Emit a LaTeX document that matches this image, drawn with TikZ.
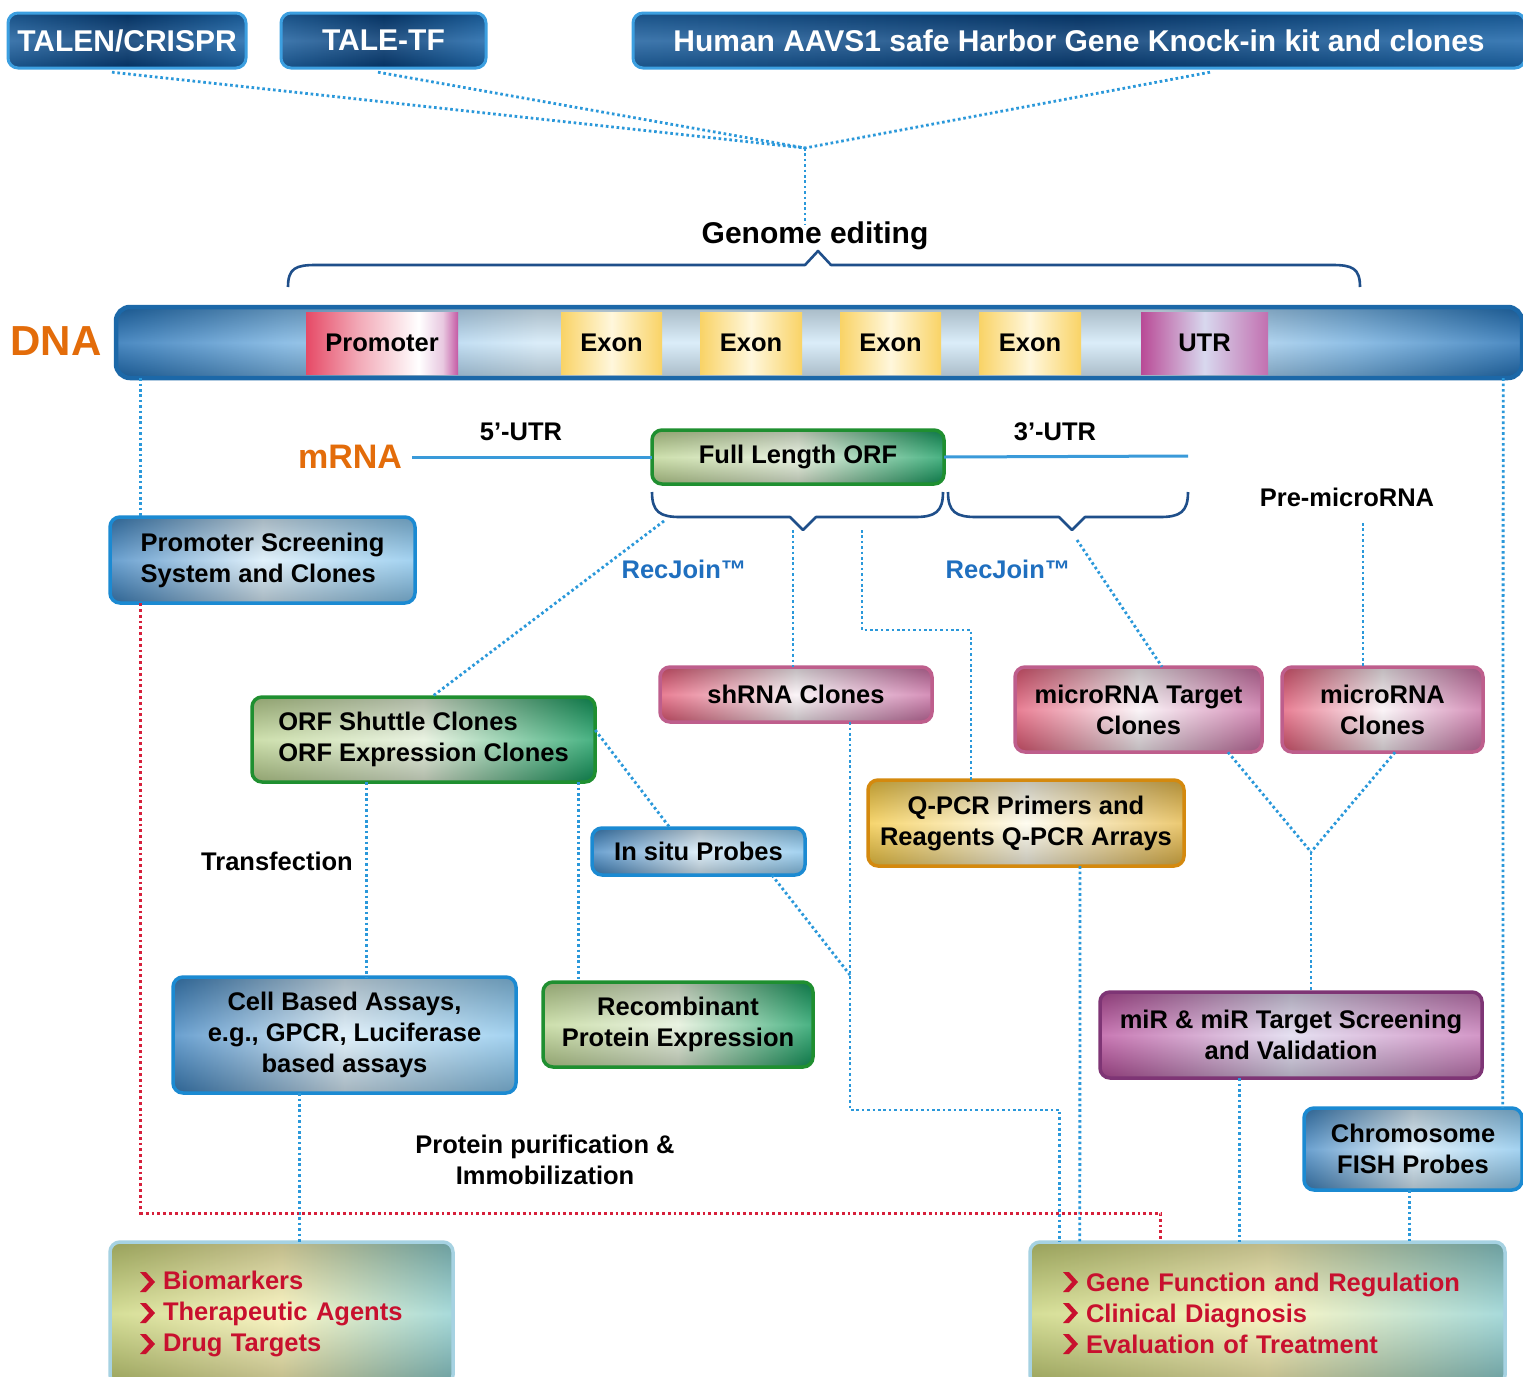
\documentclass[tikz,border=0pt]{standalone}
\usepackage{fontspec}
\setmainfont{Liberation Sans}
\usetikzlibrary{calc}
\newcommand\fbody{\fontsize{25.5}{31}\selectfont\bfseries}
\newcommand\ftop{\fontsize{30}{34}\selectfont\bfseries}
\newcommand\chevsp{\hspace*{23pt}}
\definecolor{topL}{HTML}{1D609F}
\definecolor{topM}{HTML}{053A72}
\definecolor{topR}{HTML}{1B66AA}
\definecolor{topB}{HTML}{3C9FE0}
\definecolor{dnaA}{HTML}{1E6CB2}
\definecolor{dnaB}{HTML}{74B0E0}
\definecolor{dnaC}{HTML}{D2E9F8}
\definecolor{dnaBrd}{HTML}{1C68A8}
\definecolor{braceblue}{HTML}{1F4F8A}
\definecolor{dnaorange}{HTML}{E36C0A}
\definecolor{dotblue}{HTML}{2A98DA}
\definecolor{mrnaline}{HTML}{3A9AD9}
\definecolor{recblue}{HTML}{1F6FBF}
\definecolor{dotred}{HTML}{D6203B}
\definecolor{itemred}{HTML}{C8102E}
\definecolor{bluL}{HTML}{3B82C0}
\definecolor{bluM}{HTML}{D8EDFA}
\definecolor{bluR}{HTML}{86C4EC}
\definecolor{bluB}{HTML}{1B8AD2}
\definecolor{grnL}{HTML}{BDD592}
\definecolor{grnM}{HTML}{E4F0DA}
\definecolor{grnR}{HTML}{0F9A5C}
\definecolor{grnB}{HTML}{1F8F30}
\definecolor{pnkL}{HTML}{E25672}
\definecolor{pnkM}{HTML}{FAF2F6}
\definecolor{pnkR}{HTML}{C86CA2}
\definecolor{pnkB}{HTML}{BE5E8C}
\definecolor{gldL}{HTML}{F4C840}
\definecolor{gldM}{HTML}{FFFCEC}
\definecolor{gldR}{HTML}{E6B845}
\definecolor{gldB}{HTML}{D4890E}
\definecolor{purL}{HTML}{B84E9C}
\definecolor{purM}{HTML}{DED8EE}
\definecolor{purR}{HTML}{C676B6}
\definecolor{purB}{HTML}{7E3575}
\definecolor{btmL}{HTML}{C8D477}
\definecolor{btmM}{HTML}{FBF4B4}
\definecolor{btmR}{HTML}{8CCFD0}
\definecolor{btmB}{HTML}{A6D2E2}
\definecolor{exoY}{HTML}{F9D366}
\definecolor{exoM}{HTML}{FFF7DC}
\definecolor{prA}{HTML}{E64A66}
\definecolor{prB}{HTML}{F2A8B6}
\definecolor{prE}{HTML}{E8C8E0}
\definecolor{prD}{HTML}{C45AA4}
\definecolor{utrL}{HTML}{B94A96}
\definecolor{utrM}{HTML}{D8D8EE}
\definecolor{utrR}{HTML}{C270B0}
\pgfdeclarehorizontalshading{dnashade}{100bp}{color(0bp)=(dnaA); color(25bp)=(dnaA); color(31bp)=(dnaB); color(40bp)=(dnaC); color(62bp)=(dnaC); color(69bp)=(dnaB); color(75bp)=(dnaA); color(100bp)=(dnaA)}
\pgfdeclarehorizontalshading{promshade}{100bp}{color(0bp)=(prA); color(25bp)=(prA); color(42bp)=(prB); color(62bp)=(white); color(70bp)=(prE); color(75bp)=(prD); color(100bp)=(prD)}
\begin{document}
\begin{tikzpicture}[x=1pt,y=-1pt,
  box/.style={rounded corners=10pt, inner sep=0pt, align=center, font=\fbody, text=black},
  gloss/.style={postaction={fill opacity=0.24, top color=black, bottom color=black, middle color=white}},
  topbox/.style={box, font=\ftop, text=white, minimum height=55pt, left color=topL, right color=topR, middle color=topM,
    postaction={fill opacity=0.15, top color=black, bottom color=black, middle color=white}, postaction={draw=topB, line width=3pt}},
  bluebox/.style={box, left color=bluL, right color=bluR, middle color=bluM, gloss, postaction={draw=bluB, line width=3.5pt}},
  greenbox/.style={box, left color=grnL, right color=grnR, middle color=grnM, gloss, postaction={draw=grnB, line width=3.5pt}},
  pinkbox/.style={box, left color=pnkL, right color=pnkR, middle color=pnkM, gloss, postaction={draw=pnkB, line width=3.5pt}},
  goldbox/.style={box, left color=gldL, right color=gldR, middle color=gldM, gloss, postaction={draw=gldB, line width=3.5pt}},
  purplebox/.style={box, left color=purL, right color=purR, middle color=purM, gloss, postaction={draw=purB, line width=3.5pt}},
  bottombox/.style={box, text=itemred, align=left, left color=btmL, right color=btmR, middle color=btmM, gloss, postaction={draw=btmB, line width=3.5pt}},
  seg/.style={inner sep=0pt, minimum height=62pt, font=\fbody},
  lbl/.style={inner sep=0pt, font=\fbody, align=center},
  bdot/.style={draw=dotblue, line width=2.8pt, dash pattern=on 2.6pt off 2.8pt},
  rdot/.style={draw=dotred, line width=3pt, dash pattern=on 2.8pt off 3pt},
  brc/.style={draw=braceblue, line width=2.6pt, line join=round},
  mline/.style={draw=mrnaline, line width=3pt},
  chevron/.style={fill=itemred}
]
\useasboundingbox (0,0) rectangle (1523,1376);
\fill[white] (0,0) rectangle (1523,1376);

% top boxes
\node[topbox, minimum width=238pt] (talen) at (127,40.5) {TALEN/CRISPR};
\node[topbox, minimum width=205pt] (talef) at (383.5,40.5) {TALE-TF};
\node[topbox, minimum width=892pt] (aavs) at (1079,40.5) {Human AAVS1 safe Harbor Gene Knock-in kit and clones};

\coordinate (hub) at (805,148);
\node[lbl, font=\fontsize{30}{34}\selectfont\bfseries] (genome) at (815,236) {Genome editing};

% DNA
\node[inner sep=0pt, font=\fontsize{42}{46}\selectfont\bfseries, text=dnaorange] (dnalbl) at (56,341) {DNA};
\node[rounded corners=14pt, minimum width=1406pt, minimum height=71pt, inner sep=0pt, shade, shading=dnashade,
  postaction={fill opacity=0.2, top color=black, bottom color=black, middle color=white},
  postaction={draw=dnaBrd, line width=4.5pt}] (dna) at (819,342.5) {};
\node[seg, minimum width=152pt, shade, shading=promshade] (prom) at (382,343) {Promoter};
\node[seg, minimum width=101pt, left color=exoY, right color=exoY, middle color=exoM] (ex1) at (611.5,343) {Exon};
\node[seg, minimum width=102pt, left color=exoY, right color=exoY, middle color=exoM] (ex2) at (751,343) {Exon};
\node[seg, minimum width=101pt, left color=exoY, right color=exoY, middle color=exoM] (ex3) at (890.5,343) {Exon};
\node[seg, minimum width=102pt, left color=exoY, right color=exoY, middle color=exoM] (ex4) at (1030,343) {Exon};
\node[seg, minimum width=127pt, left color=utrL, right color=utrR, middle color=utrM] (utr) at (1204.5,343) {UTR};

% mRNA
\node[inner sep=0pt, font=\fontsize{34}{38}\selectfont\bfseries, text=dnaorange] (mrnalbl) at (350,457) {mRNA};
\node[greenbox, minimum width=292pt, minimum height=54pt] (orfl) at (798,457) {Full Length ORF};
\node[lbl] (utr5) at (521,432) {5’-UTR};
\node[lbl] (utr3) at (1055,432) {3’-UTR};
\coordinate (utrend) at (1188,456);
\node[lbl] (premir) at (1347,497) {Pre-microRNA};
\node[lbl, text=recblue] (recj1) at (684,569) {RecJoin™};
\node[lbl, text=recblue] (recj2) at (1008,569) {RecJoin™};

% boxes
\node[bluebox, minimum width=305pt, minimum height=86pt, align=left] (promscr) at (262.5,560) {Promoter Screening\\System and Clones};
\node[pinkbox, minimum width=272pt, minimum height=55pt] (shrna) at (796,694.5) {shRNA Clones};
\node[pinkbox, minimum width=247pt, minimum height=85pt] (mirt) at (1138.5,709.5) {microRNA Target\\Clones};
\node[pinkbox, minimum width=201pt, minimum height=85pt] (mirc) at (1382.5,709.5) {microRNA\\Clones};
\node[greenbox, minimum width=343pt, minimum height=85pt, align=left] (orf) at (423.5,739.5) {ORF Shuttle Clones\\ORF Expression Clones};
\node[bluebox, minimum width=213pt, minimum height=47pt] (insitu) at (698.5,851.5) {In situ Probes};
\node[goldbox, minimum width=316pt, minimum height=86pt] (qpcr) at (1026,823) {Q-PCR Primers and\\Reagents Q-PCR Arrays};
\node[lbl] (transf) at (277,861) {Transfection};
\node[bluebox, minimum width=343pt, minimum height=116pt] (cell) at (344.5,1035) {Cell Based Assays,\\e.g., GPCR, Luciferase\\based assays};
\node[greenbox, minimum width=270pt, minimum height=85pt] (recomb) at (678,1024.5) {Recombinant\\Protein Expression};
\node[purplebox, minimum width=382pt, minimum height=86pt] (mir) at (1291,1035) {miR \& miR Target Screening\\and Validation};
\node[bluebox, minimum width=218pt, minimum height=82pt] (chrom) at (1413,1149) {Chromosome\\FISH Probes};
\node[lbl] (protp) at (545,1160) {Protein purification \&\\Immobilization};
\node[bottombox, text width=283pt, inner xsep=30pt, minimum height=143pt] (bio) at (281.5,1313.5) {\chevsp Biomarkers\\\chevsp Therapeutic Agents\\\chevsp Drug Targets};
\node[bottombox, text width=409pt, inner xsep=33pt, minimum height=143pt] (gene) at (1267.5,1313.5) {\chevsp Gene Function and Regulation\\\chevsp Clinical Diagnosis\\\chevsp Evaluation of Treatment};

% bullet chevrons
\foreach \bx in {140,1063}
  \foreach \by in {1282,1313,1344}
    \fill[chevron] (\bx,\by-10) -- (\bx+9,\by) -- (\bx,\by+10) -- (\bx+6,\by+10) -- (\bx+15,\by) -- (\bx+6,\by-10) -- cycle;

% braces
\draw[brc] (288,287) .. controls (288,268) and (296,265) .. (316,265) -- (805,265) -- (818,251) -- (831,265) -- (1332,265) .. controls (1352,265) and (1360,268) .. (1360,287);
\draw[brc] (652,492) .. controls (652,512) and (660,517) .. (680,517) -- (790,517) -- (803,530) -- (816,517) -- (915,517) .. controls (935,517) and (943,512) .. (943,492);
\draw[brc] (948,492) .. controls (948,512) and (956,517) .. (976,517) -- (1059,517) -- (1072,530) -- (1085,517) -- (1160,517) .. controls (1180,517) and (1188,512) .. (1188,492);

% mRNA line
\draw[mline] ([xshift=10pt]mrnalbl.east) -- (orfl.west);
\draw[mline] (orfl.east) -- (utrend);

% coordinates
\coordinate (c1) at (664,521);
\coordinate (c2) at (793,530);
\coordinate (c3) at (862,530);
\coordinate (jog3) at (900,630);
\coordinate (c4) at (1077,540);
\coordinate (c5) at (1363,523);
\coordinate (j7) at (850,975);
\coordinate (jog8) at (955,1110);
\coordinate (mj) at (1311,852);
\coordinate (jogr) at (600,1213);

% connectors
\draw[bdot] ([xshift=-15pt,yshift=-4pt]talen.south) -- (hub);
\draw[bdot] ([xshift=-5.5pt,yshift=-4pt]talef.south) -- (hub);
\draw[bdot] ([xshift=131pt,yshift=-4pt]aavs.south) -- (hub);
\draw[bdot] (hub) -- ([xshift=-10pt,yshift=-2pt]genome.north);
\draw[bdot] ([xshift=25pt]dna.south west) -- ([xshift=31pt]promscr.north west);
\draw[bdot] ([xshift=-19pt]dna.south east) -- ([xshift=199pt]chrom.north west);
\draw[bdot] (c1) -- ([xshift=180pt]orf.north west);
\draw[bdot] (c2) -- ([xshift=-3pt]shrna.north);
\draw[bdot] (c3) |- (jog3) -| ([xshift=-55pt]qpcr.north);
\draw[bdot] (c4) -- ([xshift=23.5pt]mirt.north);
\draw[bdot] (c5) -- ([xshift=-19.5pt]mirc.north);
\draw[bdot] ([yshift=9.5pt]orf.east) -- ([xshift=-28.5pt]insitu.north);
\draw[bdot] ([xshift=73.5pt]insitu.south) -- (j7);
\draw[bdot] ([xshift=54pt]shrna.south) |- (jog8) -| ([xshift=30pt]gene.north west);
\draw[bdot] ([xshift=54pt]qpcr.south) -- ([xshift=50pt]gene.north west);
\draw[bdot] ([xshift=89.5pt]mirt.south) -- (mj);
\draw[bdot] ([xshift=12.5pt]mirc.south) -- (mj);
\draw[bdot] (mj) -- ([xshift=20pt]mir.north);
\draw[bdot] ([xshift=115pt]orf.south west) -- ([xshift=194pt]cell.north west);
\draw[bdot] ([xshift=327pt]orf.south west) -- ([xshift=36pt]recomb.north west);
\draw[bdot] ([xshift=127pt]cell.south west) -- ([xshift=190pt]bio.north west);
\draw[rdot] ([xshift=31pt]promscr.south west) |- (jogr) -| ([xshift=131pt]gene.north west);
\draw[bdot] ([xshift=140pt]mir.south west) -- ([xshift=210pt]gene.north west);
\draw[bdot] ([xshift=106pt]chrom.south west) -- ([xshift=380pt]gene.north west);
\end{tikzpicture}
\end{document}
